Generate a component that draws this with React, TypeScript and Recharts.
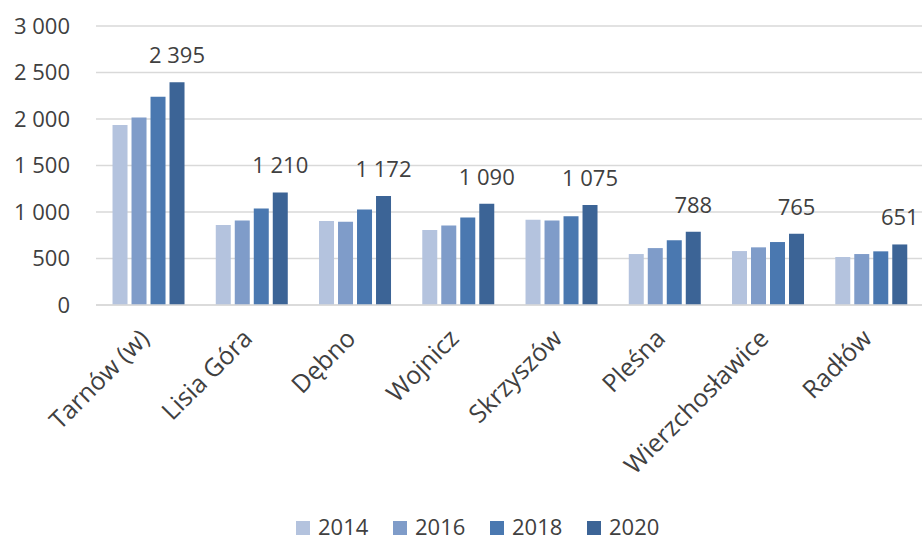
import React from "react";
import { BarChart, Bar, XAxis, YAxis, CartesianGrid, Legend, LabelList } from "recharts";

const categories = ["Tarnów (w)", "Lisia Góra", "Dębno", "Wojnicz", "Skrzyszów", "Pleśna", "Wierzchosławice", "Radłów"];
const values2014 = [1935, 860, 903, 806, 916, 548, 580, 516];
const values2016 = [2015, 909, 896, 856, 909, 612, 620, 548];
const values2018 = [2240, 1038, 1028, 942, 953, 695, 677, 577];
const values2020 = [2395, 1210, 1172, 1090, 1075, 788, 765, 651];
const seriesNames = ["2014", "2016", "2018", "2020"];
const seriesColors = ["#b4c3de", "#7f9cc9", "#4a78b0", "#3c6496"];
const yTicks = [0, 500, 1000, 1500, 2000, 2500, 3000];

const data = categories.map((name, i) => ({
  name,
  "2014": values2014[i],
  "2016": values2016[i],
  "2018": values2018[i],
  "2020": values2020[i],
}));

const FONT = "'Open Sans', 'Noto Sans', sans-serif";
const TEXT = "#404040";

const fmt = (v: number) => String(v).replace(/\B(?=(\d{3})+(?!\d))/g, "\u00A0");

const XTick = (props: any) => {
  const { x, y, payload } = props;
  const px = x + 3;
  const py = y + 35;
  return (
    <text
      x={px}
      y={py}
      textAnchor="end"
      transform={`rotate(-45, ${px}, ${py})`}
      fill={TEXT}
      fontSize={25}
      fontFamily={FONT}
    >
      {payload.value}
    </text>
  );
};

const LegendContent = () => (
  <div style={{ display: "flex", height: 34, paddingLeft: 296, alignItems: "flex-end", fontFamily: FONT, fontSize: 22, lineHeight: "30px", color: TEXT, boxSizing: "border-box" }}>
    {seriesNames.map((n, i) => (
      <div key={n} style={{ display: "flex", alignItems: "center", width: 97, height: 30 }}>
        <span style={{ display: "inline-block", width: 14, height: 14, background: seriesColors[i], marginRight: 8, marginTop: 3, flex: "none" }} />
        <span style={{ whiteSpace: "nowrap" }}>{n}</span>
      </div>
    ))}
  </div>
);

export default function App() {
  return (
    <div style={{ position: "absolute", left: 0, top: 0, width: 922, height: 541, background: "#fff" }}>
      <BarChart
        width={922}
        height={541}
        data={data}
        margin={{ top: 26, right: 0, bottom: 0, left: 0 }}
        barGap={4}
        barCategoryGap="16%"
      >
        <CartesianGrid vertical={false} stroke="#d9d9d9" strokeWidth={1.5} />
        <XAxis
          dataKey="name"
          height={202}
          interval={0}
          tickSize={0}
          tickMargin={0}
          tickLine={false}
          axisLine={{ stroke: "#d9d9d9", strokeWidth: 1.5 }}
          tick={<XTick />}
        />
        <YAxis
          width={96}
          domain={[0, 3000]}
          ticks={yTicks}
          tickFormatter={fmt}
          axisLine={false}
          tickLine={false}
          tickSize={0}
          tickMargin={26}
          tick={{ fill: TEXT, fontSize: 22, fontFamily: FONT }}
        />
        <Legend verticalAlign="bottom" content={<LegendContent />} wrapperStyle={{ left: 0, width: 922 }} />
        {seriesNames.map((n, i) => (
          <Bar key={n} dataKey={n} fill={seriesColors[i]} isAnimationActive={false}>
            {i === 3 ? (
              <LabelList
                dataKey={n}
                position="top"
                offset={19}
                formatter={(v: any) => fmt(Number(v))}
                style={{ fill: TEXT, fontSize: 22, fontFamily: FONT }}
              />
            ) : null}
          </Bar>
        ))}
      </BarChart>
    </div>
  );
}
